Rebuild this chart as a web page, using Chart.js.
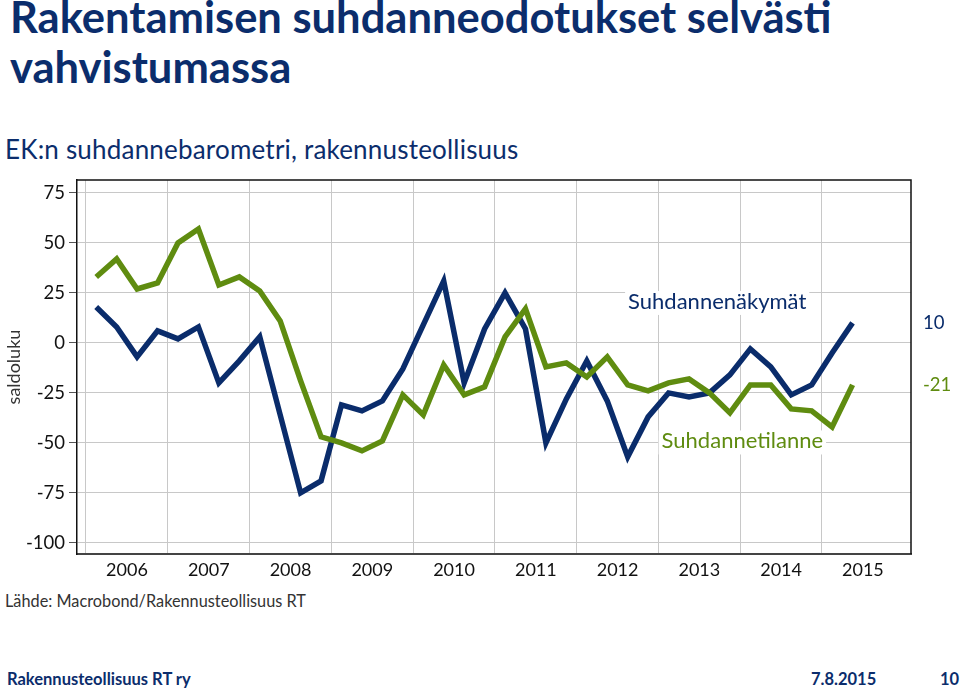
<!DOCTYPE html>
<html lang="fi">
<head>
<meta charset="utf-8">
<title>Rakentamisen suhdanneodotukset</title>
<script src="https://cdn.jsdelivr.net/npm/chart.js@4.4.1/dist/chart.umd.min.js"></script>
<style>
  html, body { margin: 0; padding: 0; background: #fff; }
  body { width: 960px; height: 691px; position: relative; overflow: hidden; font-family: Lato, "Noto Sans", sans-serif; }
  .otsikko { position: absolute; left: 10px; top: -9px; font-size: 43.5px; line-height: 50px; font-weight: 700; color: #0b2d6c; }
  .alaotsikko { position: absolute; left: 5px; top: 136px; font-size: 26px; line-height: 26px; color: #0b2d6c; letter-spacing: 0.2px; }
  #kaavioBox { position: absolute; left: 0; top: 165px; width: 960px; height: 420px; }
  .lahde { position: absolute; left: 5px; top: 593px; font-size: 16.3px; line-height: 16px; color: #333; }
  .alapalkki { position: absolute; top: 671px; font-size: 16.5px; line-height: 16px; font-weight: 700; color: #0b2d6c; }
</style>
</head>
<body>
<div class="otsikko">Rakentamisen suhdanneodotukset selvästi<br>vahvistumassa</div>
<div class="alaotsikko">EK:n suhdannebarometri, rakennusteollisuus</div>
<div id="kaavioBox"><canvas id="kaavio"></canvas></div>
<div class="lahde">Lähde: Macrobond/Rakennusteollisuus RT</div>
<div class="alapalkki" style="left:7px">Rakennusteollisuus RT ry</div>
<div class="alapalkki" style="left:811px">7.8.2015</div>
<div class="alapalkki" style="left:940px">10</div>

<script>
// --- data (saldoluku, neljännesvuosittain 2006Q1 - 2015Q2) ---
const vuodet = ['2006', '2007', '2008', '2009', '2010', '2011', '2012', '2013', '2014', '2015'];
const yTicks = [75, 50, 25, 0, -25, -50, -75, -100];

const neljannekset = [
    '2006Q1', '2006Q2', '2006Q3', '2006Q4', '2007Q1', '2007Q2', '2007Q3', '2007Q4',
    '2008Q1', '2008Q2', '2008Q3', '2008Q4', '2009Q1', '2009Q2', '2009Q3', '2009Q4',
    '2010Q1', '2010Q2', '2010Q3', '2010Q4', '2011Q1', '2011Q2', '2011Q3', '2011Q4',
    '2012Q1', '2012Q2', '2012Q3', '2012Q4', '2013Q1', '2013Q2', '2013Q3', '2013Q4',
    '2014Q1', '2014Q2', '2014Q3', '2014Q4', '2015Q1', '2015Q2'
];

// Suhdannenäkymät (tummansininen)
const nakymat = [
    18, 8, -7, 6, 2, 8, -20, -9,
    3, -36, -75, -69, -31, -34, -29, -13,
    9, 31, -20, 7, 25, 7, -50, -28,
    -9, -29, -57, -37, -25, -27, -25, -16,
    -3, -12, -26, -21, -5, 10
];

// Suhdannetilanne (vihreä)
const tilanne = [
    33, 42, 27, 30, 50, 57, 29, 33,
    26, 11, -19, -47, -50, -54, -49, -26,
    -36, -11, -26, -22, 3, 17, -12, -10,
    -17, -7, -21, -24, -20, -18, -25, -35,
    -21, -21, -33, -34, -42, -21
];

const SININEN = '#0a2c6b';
const VIHREA = '#5f8c10';

// neljännes -> vuosiluku desimaalina (neljänneksen keskikohta)
function xArvo(n) {
    const v = parseInt(n.slice(0, 4), 10);
    const q = parseInt(n.slice(5), 10);
    return v + (q - 0.5) / 4;
}

function sarja(arvot) {
    return arvot.map((a, i) => ({ x: xArvo(neljannekset[i]), y: a }));
}

// Kehys ylä- ja oikealle, sarjojen nimet ja loppuarvot
const kehysJaTekstit = {
    id: 'kehysJaTekstit',
    afterDatasetsDraw(chart, args, opts) {
        const { ctx, chartArea: a, scales: { x, y } } = chart;
        ctx.save();

        ctx.strokeStyle = '#111';
        ctx.lineWidth = 1.5;
        ctx.beginPath();
        ctx.moveTo(a.left, a.top);
        ctx.lineTo(a.right, a.top);
        ctx.lineTo(a.right, a.bottom);
        ctx.stroke();

        // sarjojen nimet valkoisella pohjalla
        ctx.font = opts.nimiFontti;
        ctx.textAlign = 'left';
        ctx.textBaseline = 'alphabetic';
        opts.nimet.forEach(n => {
            const px = x.getPixelForValue(n.x);
            const py = y.getPixelForValue(n.y);
            const w = ctx.measureText(n.teksti).width;
            ctx.fillStyle = '#fff';
            ctx.fillRect(px - 3, py - 18, w + 6, 24);
            ctx.fillStyle = n.vari;
            ctx.fillText(n.teksti, px, py);
        });

        // viimeiset arvot oikealle reunan ulkopuolelle
        ctx.font = opts.arvoFontti;
        ctx.textBaseline = 'middle';
        chart.data.datasets.forEach(ds => {
            const viim = ds.data[ds.data.length - 1];
            ctx.fillStyle = ds.borderColor;
            ctx.fillText(String(viim.y), a.right + 12, y.getPixelForValue(viim.y));
        });

        ctx.restore();
    }
};

new Chart(document.getElementById('kaavio'), {
    type: 'line',
    data: {
        datasets: [
            {
                label: 'Suhdannenäkymät',
                data: sarja(nakymat),
                borderColor: SININEN,
                borderWidth: 5.5,
                pointRadius: 0,
                tension: 0,
                borderJoinStyle: 'miter',
                order: 1
            },
            {
                label: 'Suhdannetilanne',
                data: sarja(tilanne),
                borderColor: VIHREA,
                borderWidth: 5.5,
                pointRadius: 0,
                tension: 0,
                borderJoinStyle: 'miter',
                order: 0
            }
        ]
    },
    options: {
        responsive: true,
        maintainAspectRatio: false,
        animation: false,
        layout: { padding: { top: 12, right: 49, left: 0, bottom: 0 } },
        plugins: {
            legend: { display: false },
            tooltip: { enabled: false },
            kehysJaTekstit: {
                nimiFontti: '22px Lato',
                arvoFontti: '18.5px Lato',
                nimet: [
                    { teksti: 'Suhdannenäkymät', x: 2012.63, y: 17, vari: SININEN },
                    { teksti: 'Suhdannetilanne', x: 2013.04, y: -52.8, vari: VIHREA }
                ]
            }
        },
        scales: {
            x: {
                type: 'linear',
                min: 2005.89,
                max: 2016.09,
                afterBuildTicks: s => { s.ticks = vuodet.map(v => ({ value: Number(v) })); },
                afterFit: s => { s.height = 31; },
                ticks: {
                    color: '#111',
                    font: { family: 'Lato', size: 18 },
                    padding: 5,
                    labelOffset: 41,
                    maxRotation: 0,
                    autoSkip: false,
                    callback: (v, i) => vuodet[i]
                },
                grid: { color: '#c8c8c8', lineWidth: 1, drawTicks: false },
                border: { color: '#444', width: 2 }
            },
            y: {
                min: -105.6,
                max: 81.45,
                afterBuildTicks: s => { s.ticks = yTicks.map(v => ({ value: v })); },
                afterFit: s => { s.width = 77; },
                ticks: {
                    color: '#111',
                    font: { family: 'Lato', size: 18.5 },
                    padding: 4
                },
                grid: { color: '#c8c8c8', lineWidth: 1, tickLength: 8, tickColor: '#555' },
                border: { color: '#111', width: 1.5 },
                title: {
                    display: true,
                    text: 'saldoluku',
                    color: '#333',
                    font: { family: 'Lato', size: 18 },
                    padding: { top: 3, bottom: 0 }
                }
            }
        }
    },
    plugins: [kehysJaTekstit]
});
</script>
</body>
</html>
